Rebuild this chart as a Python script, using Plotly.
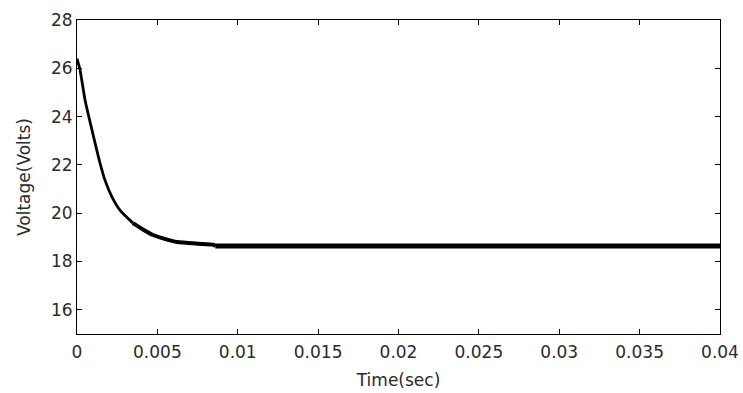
import plotly.graph_objects as go

# Values
time_s = [0.0, 0.00019, 0.0005, 0.00093, 0.00143, 0.00174, 0.00218, 0.00267,
          0.00348, 0.00410, 0.00473, 0.00550, 0.00622, 0.00750, 0.00846,
          0.00860, 0.0120, 0.0200, 0.0300, 0.0400]
voltage = [26.40, 25.93, 24.69, 23.45, 22.08, 21.37, 20.67, 20.13,
           19.59, 19.33, 19.10, 18.93, 18.81, 18.74, 18.70,
           18.64, 18.64, 18.64, 18.64, 18.64]

x_ticks = [0, 0.005, 0.01, 0.015, 0.02, 0.025, 0.03, 0.035, 0.04]
x_tick_text = ["0", "0.005", "0.01", "0.015", "0.02", "0.025", "0.03", "0.035", "0.04"]
y_ticks = [16, 18, 20, 22, 24, 26, 28]
y_tick_text = ["16", "18", "20", "22", "24", "26", "28"]

# segment boundaries (indices into the arrays) and the drawn thickness of each
segments = [(0, 9, 2.8), (8, 16, 4), (15, 20, 5)]

fig = go.Figure()
for a, b, w in segments:
    fig.add_trace(go.Scatter(
        x=time_s[a:b], y=voltage[a:b], mode="lines",
        line=dict(color="black", width=w, shape="spline", smoothing=0.5),
        showlegend=False, hoverinfo="skip"))

font = dict(family="DejaVu Sans", size=17, color="#2a2a2a")
axis_common = dict(showgrid=False, zeroline=False, showline=True, linecolor="black",
                   linewidth=1, mirror="ticks", ticks="inside", ticklen=5,
                   tickcolor="black", tickfont=font, automargin=False)

fig.update_layout(
    width=743, height=393,
    margin=dict(l=77, r=23, t=20, b=59),
    paper_bgcolor="white", plot_bgcolor="white",
    xaxis=dict(range=[0, 0.04], tickvals=x_ticks, ticktext=x_tick_text,
               ticklabelstandoff=3,
               title=dict(text="Time(sec)", font=font, standoff=12), **axis_common),
    yaxis=dict(range=[15, 28], tickvals=y_ticks, ticktext=y_tick_text,
               title=dict(text="Voltage(Volts)", font=font, standoff=16), **axis_common),
)

fig.write_html("out.html", config={"displayModeBar": False},
               post_script="document.body.style.margin='0';")
